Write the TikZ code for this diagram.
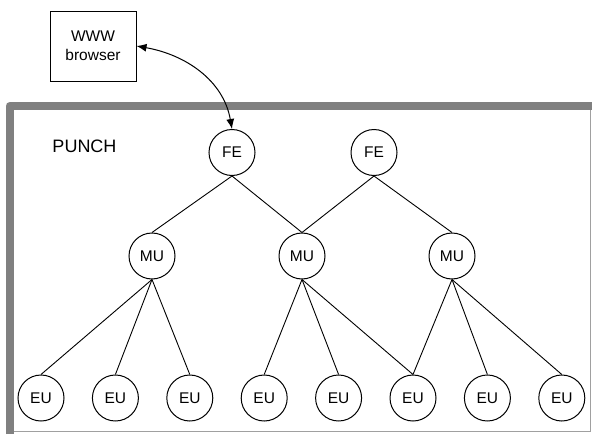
\documentclass[tikz,border=0pt]{standalone}
\usepackage{fontspec}
\setmainfont{Liberation Sans}
\usetikzlibrary{arrows.meta,positioning}
\definecolor{FrameGray}{HTML}{808080}
\definecolor{EdgeGray}{HTML}{A0A0A0}

\tikzset{
  unit/.style={draw, circle, line width=1pt, minimum size=46pt, inner sep=0pt,
    font=\fontsize{15.5}{18}\selectfont},
  link/.style={line width=0.9pt},
}

\begin{document}
\begin{tikzpicture}[x=1pt, y=-1pt, >=Latex]
    \useasboundingbox (0,0) rectangle (592,434);
    % PUNCH frame
    \draw[FrameGray, line width=8pt, line join=round] (9.5,434) -- (9.5,106) -- (592,106);
    \draw[EdgeGray, line width=1pt] (13.5,431) -- (590.5,431) -- (590.5,110);
    \node[font=\fontsize{18}{20}\selectfont] (punch) at (84.5,146) {PUNCH};
    \node[draw, line width=1pt, minimum width=86pt, minimum height=70pt, inner sep=0pt,
      align=center, font=\fontsize{15.5}{19}\selectfont] (browser) at (93,46) {WWW\\browser};
    % front ends
    \node[unit] (fe1) at (232,152.5) {FE};
    \node[unit] (fe2) at (374,152.5) {FE};
    % middle units
    \node[unit] (mu1) at (152,256) {MU};
    \node[unit] (mu2) at (302,256) {MU};
    \node[unit] (mu3) at (452,256) {MU};
    % end units
    \node[unit] (eu1) at (41,398) {EU};
    \node[unit] (eu2) at (115.4,398) {EU};
    \node[unit] (eu3) at (189.8,398) {EU};
    \node[unit] (eu4) at (264.2,398) {EU};
    \node[unit] (eu5) at (338.6,398) {EU};
    \node[unit] (eu6) at (413,398) {EU};
    \node[unit] (eu7) at (487.4,398) {EU};
    \node[unit] (eu8) at (561.8,398) {EU};
    \draw[link] (fe1.south) -- (mu1.north);
    \draw[link] (fe1.south) -- (mu2.north);
    \draw[link] (fe2.south) -- (mu2.north);
    \draw[link] (fe2.south) -- (mu3.north);
    \draw[link] (mu1.south) -- (eu1.north);
    \draw[link] (mu1.south) -- (eu2.north);
    \draw[link] (mu1.south) -- (eu3.north);
    \draw[link] (mu2.south) -- (eu4.north);
    \draw[link] (mu2.south) -- (eu5.north);
    \draw[link] (mu2.south) -- (eu6.north);
    \draw[link] (mu3.south) -- (eu6.north);
    \draw[link] (mu3.south) -- (eu7.north);
    \draw[link] (mu3.south) -- (eu8.north);
    \draw[{Latex[length=10pt,width=8pt]}-{Latex[length=10pt,width=8pt]}, line width=1pt]
      (browser.east) to[out=-10, in=100] (fe1.north);
  \end{tikzpicture}
\end{document}
